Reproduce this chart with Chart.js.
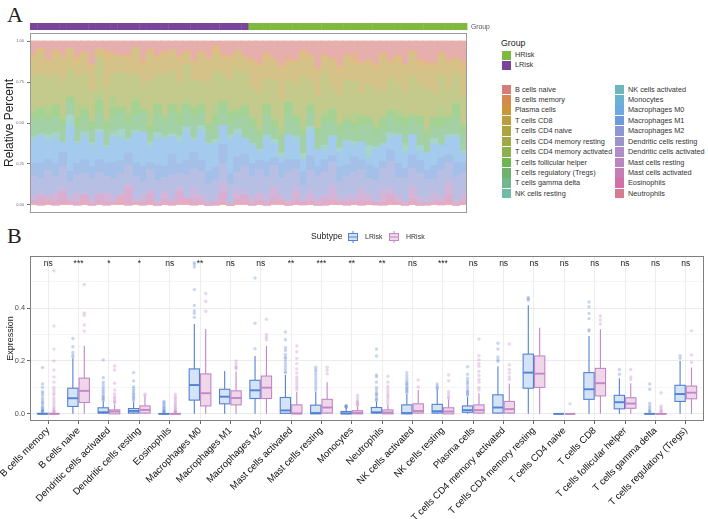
<!DOCTYPE html>
<html>
<head>
<meta charset="utf-8">
<script src="https://cdn.jsdelivr.net/npm/chart.js@4.4.1/dist/chart.umd.min.js"></script>
<style>
  html, body { margin: 0; padding: 0; background: #fff; }
  body { width: 708px; height: 519px; position: relative; overflow: hidden; font-family: "Liberation Sans", Arial, sans-serif; }
  .tag { position: absolute; font-family: "Liberation Serif", "DejaVu Serif", serif; font-size: 22px; line-height: 22px; color: #222; }
  canvas { position: absolute; left: 0; }
  .leg { position: absolute; white-space: nowrap; color: #333; font-size: 7.3px; line-height: 10px; }
  .sw { position: absolute; width: 9px; height: 9px; }
</style>
</head>
<body>
<div class="tag" style="left:7px;top:4px">A</div>
<div class="tag" style="left:7px;top:225px">B</div>
<canvas id="chartA" width="500" height="220" style="top:0;width:500px;height:220px"></canvas>
<canvas id="chartB" width="708" height="299" style="top:220px;width:708px;height:299px"></canvas>
<div id="legendA"></div>
<script>
// ---------- panel A: relative fractions per sample (percent, 30 LRisk then 30 HRisk) ----------
const sampleGroup = [
  'LRisk','LRisk','LRisk','LRisk','LRisk','LRisk','LRisk','LRisk','LRisk','LRisk',
  'LRisk','LRisk','LRisk','LRisk','LRisk','LRisk','LRisk','LRisk','LRisk','LRisk',
  'LRisk','LRisk','LRisk','LRisk','LRisk','LRisk','LRisk','LRisk','LRisk','LRisk',
  'HRisk','HRisk','HRisk','HRisk','HRisk','HRisk','HRisk','HRisk','HRisk','HRisk',
  'HRisk','HRisk','HRisk','HRisk','HRisk','HRisk','HRisk','HRisk','HRisk','HRisk',
  'HRisk','HRisk','HRisk','HRisk','HRisk','HRisk','HRisk','HRisk','HRisk','HRisk'
];

const pctBNaive   = [6,4,8,5,9,3,7,6,10,5, 4,7,8,6,3,9,5,7,6,4, 8,5,10,6,7,3,6,9,5,7,
                     9,12,6,10,14,8,11,5,9,13, 7,10,12,8,6,11,9,14,7,10, 8,12,5,9,11,13,6,10,8,12];
const pctBMemory  = [0,0,1,0,0,0,2,0,0,0, 1,0,0,0,0,3,0,0,0,0, 1,0,0,0,0,0,2,0,0,0,
                     0,1,0,0,0,2,0,0,0,0, 0,1,0,0,4,0,0,0,0,1, 0,0,0,0,2,0,0,0,0,0];
const pctPlasma   = [1,2,1,3,1,0,2,1,2,1, 3,1,1,2,0,1,2,1,3,1, 2,1,1,2,1,4,1,2,1,1,
                     2,1,3,1,2,1,1,4,2,1, 2,1,3,1,2,1,1,2,3,1, 2,1,1,3,1,2,1,2,1,5];
const pctCD8      = [9,12,6,10,15,8,7,11,9,5, 13,10,8,6,12,9,16,7,10,8, 11,6,9,14,8,10,7,12,9,6,
                     12,15,9,11,17,8,13,10,14,12, 7,16,11,13,9,15,10,12,18,8, 11,14,12,9,13,16,10,12,7,14];
const pctCD4Naive = [0,0,0,0,0,0,0,0,0,0, 0,0,0,0,0,0,0,0,0,0, 0,0,0,0,0,0,0,0,0,0,
                     0,0,0,0,0,0,0,0,0,0, 0,0,0,0,0,0,0,0,0,0, 3,0,0,0,0,0,0,0,0,0];
const pctCD4Rest  = [15,18,12,16,20,11,14,17,13,22, 15,12,19,16,10,14,18,13,21,15, 12,17,14,11,16,19,13,15,20,14,
                     14,17,12,19,15,11,16,22,13,15, 18,12,14,20,16,11,15,19,13,17, 14,12,18,15,21,13,16,14,12,17];
const pctCD4Act   = [2,0,5,1,3,0,7,2,0,4, 1,6,0,2,3,0,8,1,2,0, 5,3,0,2,1,6,0,3,2,1,
                     1,3,0,2,4,0,1,5,2,0, 3,1,0,2,6,1,0,3,2,0, 4,1,2,0,3,1,5,0,2,1];
const pctTfh      = [4,5,3,6,4,2,5,4,3,7, 4,5,3,4,6,2,4,5,3,4, 6,3,5,4,2,5,4,6,3,4,
                     4,3,5,4,2,6,4,3,5,4, 3,7,4,2,4,5,3,4,6,3, 4,5,2,4,3,5,4,3,6,4];
const pctTregs    = [7,9,6,8,10,5,7,8,6,11, 7,8,9,6,7,10,5,8,7,9, 6,8,10,7,5,9,8,7,6,10,
                     8,7,9,6,8,10,7,9,8,6, 11,8,7,9,6,8,10,7,8,9, 6,8,7,10,8,7,9,6,8,10];
const pctTgd      = [0,0,0,1,0,0,0,0,0,0, 0,2,0,0,0,0,0,0,1,0, 0,0,0,0,0,0,0,0,1,0,
                     0,0,0,0,1,0,0,0,0,0, 0,0,0,1,0,0,0,0,0,0, 0,2,0,0,0,0,0,0,0,0];
const pctNKRest   = [1,0,2,1,0,3,1,0,1,2, 0,1,4,0,1,0,2,1,0,1, 3,0,1,2,0,1,0,2,1,0,
                     0,1,0,2,1,0,0,3,1,0, 1,0,2,0,1,0,4,1,0,0, 1,2,0,1,0,3,0,1,0,1];
const pctNKAct    = [0,1,0,2,0,1,0,3,0,0, 1,0,2,0,1,0,0,2,1,0, 0,3,0,1,0,2,0,0,1,0,
                     1,0,2,0,1,0,3,0,1,0, 2,1,0,0,1,0,2,0,1,3, 0,1,0,2,0,1,0,0,2,1];
const pctMono     = [0,0,1,0,0,1,0,0,0,1, 0,0,0,1,0,0,1,0,0,0, 1,0,0,0,1,0,0,1,0,0,
                     1,0,0,1,0,0,1,0,2,0, 0,1,0,0,1,0,0,0,1,0, 0,1,0,0,1,0,0,1,0,0];
const pctM0       = [11,15,8,13,6,17,10,12,9,16, 7,14,11,5,13,18,9,12,15,8, 11,14,6,16,10,13,9,19,12,7,
                     8,5,11,7,3,12,9,6,14,8, 4,10,7,13,5,9,3,11,8,6, 15,7,10,4,9,12,6,8,11,5];
const pctM1       = [6,8,5,7,9,4,6,7,5,8, 6,9,7,5,6,8,4,7,6,9, 5,7,8,6,5,7,9,6,8,5,
                     6,5,7,4,8,6,5,7,9,5, 6,4,7,6,8,5,6,7,4,6, 8,5,7,6,5,8,6,4,7,6];
const pctM2       = [9,7,11,8,12,6,9,10,8,13, 7,9,11,8,10,6,12,9,7,10, 8,11,9,13,7,10,8,12,9,11,
                     10,12,8,11,9,14,10,7,12,9, 11,13,8,10,12,9,7,11,10,14, 9,12,8,11,10,7,13,9,11,10];
const pctDCRest   = [1,2,0,1,3,1,0,2,1,0, 1,2,0,1,1,3,0,1,2,1, 0,1,2,0,1,1,3,0,1,2,
                     2,1,3,1,2,0,2,1,3,2, 1,2,0,3,1,2,1,2,3,1, 2,0,2,1,3,2,1,2,1,3];
const pctDCAct    = [1,0,2,1,0,1,3,0,1,1, 0,2,1,0,1,0,2,1,0,1, 1,0,4,1,0,1,2,0,1,0,
                     0,1,1,0,2,0,1,0,1,0, 1,2,0,1,0,0,1,0,2,1, 0,1,0,1,0,2,0,1,0,1];
const pctMastRest = [0,1,0,3,0,0,2,0,1,0, 4,0,0,1,0,2,0,0,3,0, 1,0,0,2,0,0,1,0,3,0,
                     2,3,1,5,0,2,4,1,3,2, 0,6,2,1,3,5,2,0,4,2, 3,1,5,2,0,3,2,4,1,2];
const pctMastAct  = [1,4,0,2,6,0,1,3,0,5, 1,0,2,7,0,1,4,0,2,1, 6,0,3,1,0,2,5,0,1,3,
                     0,1,0,3,0,0,2,0,1,0, 3,0,0,1,0,2,0,0,1,3, 0,0,2,0,1,0,0,3,0,1];
const pctEos      = [0,0,0,0,1,0,0,0,0,0, 0,0,0,0,0,0,0,0,0,0, 0,1,0,0,0,0,0,0,0,0,
                     0,0,0,0,0,0,0,1,0,0, 0,0,0,0,0,0,0,1,0,0, 0,0,0,0,0,0,1,0,0,0];
const pctNeut     = [1,0,2,0,1,1,0,2,0,1, 0,1,3,0,1,0,2,0,1,0, 1,2,0,1,0,0,1,0,2,1,
                     0,1,0,1,2,0,1,0,1,0, 0,2,1,0,1,0,1,0,0,2, 1,0,1,0,0,1,0,2,0,1];

const cellTypes = ['B cells naive','B cells memory','Plasma cells','T cells CD8','T cells CD4 naive',
  'T cells CD4 memory resting','T cells CD4 memory activated','T cells follicular helper',
  'T cells regulatory (Tregs)','T cells gamma delta','NK cells resting','NK cells activated',
  'Monocytes','Macrophages M0','Macrophages M1','Macrophages M2','Dendritic cells resting',
  'Dendritic cells activated','Mast cells resting','Mast cells activated','Eosinophils','Neutrophils'];
const cellValues = [pctBNaive,pctBMemory,pctPlasma,pctCD8,pctCD4Naive,pctCD4Rest,pctCD4Act,pctTfh,
  pctTregs,pctTgd,pctNKRest,pctNKAct,pctMono,pctM0,pctM1,pctM2,pctDCRest,pctDCAct,pctMastRest,
  pctMastAct,pctEos,pctNeut];
const cellColors = ['#D36E6A','#D07B3F','#C68A22','#B4922A','#A59B2C','#96A032','#7FA73A','#5DAE3E',
  '#5DAB5E','#64AF80','#62B49E','#5DAFB3','#5BA9CE','#5CA0DE','#5C8FD6','#7E8DCF','#9488C7',
  '#A681C1','#B379B8','#BF6FAD','#CD629F','#D36B86'];
const groupColors = { HRisk: '#80B93F', LRisk: '#7A449A' };
const yTicksA = [0, 0.25, 0.5, 0.75, 1];

// ---------- panel B: box plot statistics ----------
const categoriesB = ['B cells memory','B cells naive','Dendritic cells activated','Dendritic cells resting',
  'Eosinophils','Macrophages M0','Macrophages M1','Macrophages M2','Mast cells activated',
  'Mast cells resting','Monocytes','Neutrophils','NK cells activated','NK cells resting','Plasma cells',
  'T cells CD4 memory activated','T cells CD4 memory resting','T cells CD4 naive','T cells CD8',
  'T cells follicular helper','T cells gamma delta','T cells regulatory (Tregs)'];
const signifB = ['ns','***','*','*','ns','**','ns','ns','**','***','**','**','ns','***','ns','ns','ns','ns','ns','ns','ns','ns'];

const lrMin = [0,0,0,0,0,0,0,0,0,0,0,0,0,0,0,0,0,0,0,0,0,0];
const lrQ1  = [0,0.028,0.003,0.003,0,0.052,0.038,0.058,0.002,0,0,0.003,0,0.003,0.006,0.003,0.097,0,0.055,0.019,0,0.047];
const lrMed = [0,0.059,0.006,0.011,0,0.109,0.065,0.089,0.013,0.003,0.002,0.006,0.003,0.01,0.014,0.024,0.156,0,0.093,0.044,0,0.075];
const lrQ3  = [0.002,0.097,0.023,0.02,0.001,0.17,0.093,0.127,0.062,0.033,0.009,0.024,0.034,0.036,0.03,0.072,0.226,0,0.156,0.07,0.001,0.108];
const lrMax = [0.005,0.21,0.047,0.045,0.003,0.34,0.162,0.219,0.147,0.084,0.022,0.047,0.075,0.091,0.065,0.18,0.411,0.001,0.294,0.135,0.003,0.2];

const hrMin = [0,0,0,0,0,0,0,0,0,0,0,0,0,0,0,0,0,0,0,0,0,0];
const hrQ1  = [0,0.043,0,0.003,0,0.03,0.034,0.058,0,0.003,0,0,0.003,0,0.003,0.003,0.1,0,0.068,0.021,0,0.057];
const hrMed = [0,0.087,0.009,0.015,0,0.078,0.06,0.099,0.002,0.024,0.004,0.005,0.011,0.009,0.014,0.018,0.152,0,0.116,0.039,0,0.08];
const hrQ3  = [0.002,0.135,0.015,0.03,0.001,0.151,0.087,0.143,0.034,0.055,0.012,0.015,0.038,0.023,0.034,0.047,0.219,0,0.172,0.061,0.001,0.105];
const hrMax = [0.005,0.258,0.034,0.065,0.003,0.321,0.16,0.257,0.083,0.12,0.028,0.034,0.09,0.055,0.078,0.115,0.326,0.001,0.32,0.116,0.003,0.175];

const lrOutliers = [
  [0.175,0.113,0.1,0.085,0.078,0.07,0.06,0.052,0.045,0.04,0.032,0.025,0.02,0.015,0.012,0.01,0.008],
  [0.285,0.254,0.232,0.222,0.215],
  [0.204,0.137,0.12,0.11,0.1,0.092,0.085,0.078,0.07,0.065,0.06,0.055,0.05],
  [0.156,0.124,0.103,0.095,0.088,0.08,0.074,0.068,0.062,0.056,0.05],
  [0.047,0.042,0.036,0.03,0.025,0.02,0.016,0.012,0.009,0.006,0.004],
  [0.572,0.565,0.555,0.47,0.41,0.39,0.38,0.365],
  [],
  [0.514,0.343,0.246],
  [0.31,0.28,0.25,0.24,0.225,0.215,0.21,0.2,0.19,0.18,0.17,0.16,0.155],
  [0.176,0.168,0.16,0.15,0.14,0.13,0.12,0.11,0.1,0.09],
  [0.032,0.03,0.028,0.026,0.025],
  [0.245,0.219,0.147,0.14,0.12,0.1,0.09,0.08,0.075,0.07,0.06,0.055,0.05],
  [0.156,0.145,0.135,0.125,0.118,0.113,0.108,0.1,0.095,0.09,0.085,0.08],
  [0.113,0.105,0.098,0.095],
  [0.178,0.15,0.135,0.125,0.118,0.11,0.1,0.09,0.085,0.08,0.075,0.07],
  [0.267,0.245,0.215,0.205,0.198],
  [0.44,0.435,0.43],
  [],
  [0.423,0.405,0.38,0.36,0.318,0.313],
  [0.168,0.15],
  [0.113,0.093,0.04,0.03,0.022,0.015,0.01,0.006],
  [0.22,0.21]
];
const hrOutliers = [
  [0.541,0.332,0.245,0.2,0.166,0.14,0.12,0.1,0.09,0.08,0.072,0.06,0.05,0.04,0.03,0.022,0.016,0.01,0.008],
  [0.489,0.382,0.373,0.336,0.313],
  [0.181,0.166,0.116,0.09,0.075,0.065,0.058,0.05,0.045,0.04],
  [0.074,0.068],
  [0.074,0.065,0.058,0.05,0.043,0.036,0.03,0.024,0.018,0.013,0.009,0.006,0.004],
  [0.455,0.426,0.388],
  [0.2,0.19,0.18,0.175,0.17],
  [0.358,0.3,0.29,0.28],
  [0.257,0.235,0.21,0.19,0.17,0.155,0.14,0.13,0.12,0.11,0.1,0.09],
  [0.176,0.165,0.152],
  [0.07,0.06,0.05,0.045,0.04,0.035,0.032],
  [0.142,0.12,0.105,0.095,0.085,0.075,0.068,0.06,0.05,0.04],
  [0.128,0.102],
  [0.147,0.125,0.085,0.075,0.065,0.06],
  [0.283,0.22,0.205,0.19,0.18,0.16,0.145,0.13,0.12,0.1,0.09],
  [0.264,0.186,0.168,0.155,0.14,0.13],
  [],
  [0.038],
  [0.37,0.355,0.34],
  [0.168,0.14,0.13],
  [0.08,0.03,0.022,0.015,0.01,0.006],
  [0.314,0.223,0.195]
];
const yTicksB = [0, 0.1, 0.2, 0.3, 0.4, 0.5];
const yLabelsB = ['0.0', '', '0.2', '', '0.4', ''];

const subtypes = [
  { name: 'LRisk', shift: -0.1875, stroke: '#5282D2', fill: '#D5E3F6', dot: 'rgba(86,128,212,0.32)',
    min: lrMin, q1: lrQ1, med: lrMed, q3: lrQ3, max: lrMax, out: lrOutliers },
  { name: 'HRisk', shift: 0.1875, stroke: '#C287C5', fill: '#EFD6EB', dot: 'rgba(192,128,198,0.32)',
    min: hrMin, q1: hrQ1, med: hrMed, q3: hrQ3, max: hrMax, out: hrOutliers }
];
const boxHalf = 0.17;

Chart.defaults.font.family = '"Liberation Sans", Arial, sans-serif';

function withAlpha(hex, a) {
  const n = parseInt(hex.slice(1), 16);
  return `rgba(${n >> 16},${(n >> 8) & 255},${n & 255},${a})`;
}
// solid colour equal to hex drawn with alpha a over white (so overlapping bar edges do not darken)
function onWhite(hex, a) {
  const n = parseInt(hex.slice(1), 16);
  const mix = c => Math.round(c * a + 255 * (1 - a));
  return `rgb(${mix(n >> 16)},${mix((n >> 8) & 255)},${mix(n & 255)})`;
}

// ---------- panel A chart ----------
const sampleTotals = sampleGroup.map((g, j) => cellValues.reduce((s, arr) => s + arr[j], 0));

const panelAPlugin = {
  id: 'panelA',
  afterDraw(chart) {
    const { ctx, chartArea: a, scales: { x } } = chart;
    const w = x.getPixelForValue(1) - x.getPixelForValue(0);
    sampleGroup.forEach((g, i) => {
      const px = x.getPixelForValue(i);
      ctx.fillStyle = groupColors[g];
      ctx.fillRect(px - w / 2, 23, w + 0.4, 7);
    });
    ctx.strokeStyle = '#9a9a9a';
    ctx.lineWidth = 1;
    ctx.strokeRect(a.left + 0.5, a.top + 0.5, a.width - 1, a.height - 1);
    ctx.fillStyle = '#555';
    ctx.font = '6.8px "Liberation Sans", Arial, sans-serif';
    ctx.textBaseline = 'middle';
    ctx.textAlign = 'left';
    ctx.fillText('Group', a.right + 4, 27);
  }
};

new Chart(document.getElementById('chartA'), {
  type: 'bar',
  data: {
    labels: sampleGroup.map((g, i) => g + ' ' + (i + 1)),
    datasets: cellTypes.map((name, k) => ({
      label: name,
      data: cellValues[k].map((v, j) => v / sampleTotals[j]),
      backgroundColor: onWhite(cellColors[k], 0.56),
      borderWidth: 0,
      inflateAmount: 0.6,
      barPercentage: 1,
      categoryPercentage: 1
    })).reverse()
  },
  options: {
    responsive: false,
    animation: false,
    layout: { padding: { left: 0, top: 33, right: 33, bottom: 7 } },
    plugins: { legend: { display: false }, tooltip: { enabled: false } },
    scales: {
      x: { stacked: true, display: false },
      y: {
        stacked: true,
        min: -0.05,
        max: 1.05,
        afterBuildTicks: s => { s.ticks = yTicksA.map(v => ({ value: v })); },
        afterFit: s => { s.width = 30; },
        ticks: { font: { size: 4 }, color: '#666', padding: 3, callback: v => Number(v).toFixed(2) },
        grid: { drawOnChartArea: false, tickLength: 3, tickColor: '#777' },
        border: { display: false },
        title: { display: true, text: 'Relative Percent', font: { size: 12 }, color: '#222', padding: { top: 2, bottom: 0 } }
      }
    }
  },
  plugins: [panelAPlugin]
});

// legend of panel A as HTML
const legendA = document.getElementById('legendA');
function addLeg(text, left, top, cls, extra) {
  const d = document.createElement('div');
  d.className = cls;
  d.style.left = left + 'px';
  d.style.top = top + 'px';
  if (extra) Object.assign(d.style, extra);
  d.textContent = text;
  legendA.appendChild(d);
}
addLeg('Group', 501, 37, 'leg', { fontSize: '8.8px', color: '#222', lineHeight: '12px' });
['HRisk', 'LRisk'].forEach((g, i) => {
  addLeg('', 502, 50.5 + i * 10.2, 'sw', { background: groupColors[g] });
  addLeg(g, 515, 50 + i * 10.2, 'leg');
});
cellTypes.forEach((name, k) => {
  const col = k < 11 ? 0 : 1;
  const row = k % 11;
  const left = col ? 615 : 502;
  const top = 84.5 + row * 10.43;
  addLeg('', left, top, 'sw', { background: withAlpha(cellColors[k], 0.9), height: '9.6px' });
  addLeg(name, left + 13, top, 'leg');
});

// ---------- panel B chart ----------
const panelBPlugin = {
  id: 'panelB',
  beforeDatasetsDraw(chart) {
    const { ctx, scales: { x, y } } = chart;
    subtypes.forEach(st => {
      categoriesB.forEach((c, i) => {
        const cx = x.getPixelForValue(i + st.shift);
        const half = x.getPixelForValue(i + st.shift + boxHalf) - cx;
        const yMin = y.getPixelForValue(st.min[i]);
        const yQ1 = y.getPixelForValue(st.q1[i]);
        const yMed = y.getPixelForValue(st.med[i]);
        const yQ3 = y.getPixelForValue(st.q3[i]);
        const yMax = y.getPixelForValue(st.max[i]);
        ctx.strokeStyle = st.stroke;
        ctx.lineWidth = 1.1;
        ctx.beginPath();
        ctx.moveTo(cx, yMax); ctx.lineTo(cx, yQ3);
        ctx.moveTo(cx, yQ1); ctx.lineTo(cx, yMin);
        ctx.stroke();
        ctx.fillStyle = st.fill;
        ctx.fillRect(cx - half, yQ3, half * 2, yQ1 - yQ3);
        ctx.strokeRect(cx - half, yQ3, half * 2, yQ1 - yQ3);
        ctx.lineWidth = 1.9;
        ctx.beginPath();
        ctx.moveTo(cx - half, yMed); ctx.lineTo(cx + half, yMed);
        ctx.stroke();
      });
    });
  },
  afterDraw(chart) {
    const { ctx, chartArea: a, scales: { x } } = chart;
    ctx.strokeStyle = '#7f7f7f';
    ctx.lineWidth = 1;
    ctx.strokeRect(a.left + 0.5, a.top + 0.5, a.width - 1, a.height - 1);
    // significance labels
    ctx.fillStyle = '#222';
    ctx.font = '8.5px "Liberation Sans", Arial, sans-serif';
    ctx.textAlign = 'center';
    ctx.textBaseline = 'alphabetic';
    signifB.forEach((s, i) => ctx.fillText(s, x.getPixelForValue(i), a.top + 9.5));
    // legend
    ctx.textAlign = 'left';
    ctx.textBaseline = 'middle';
    ctx.font = '8.6px "Liberation Sans", Arial, sans-serif';
    ctx.fillText('Subtype', 311, 17);
    ctx.font = '7px "Liberation Sans", Arial, sans-serif';
    const keyX = [353, 394];
    subtypes.forEach((st, k) => {
      const cx = keyX[k];
      ctx.strokeStyle = st.stroke;
      ctx.lineWidth = 1;
      ctx.beginPath();
      ctx.moveTo(cx, 11); ctx.lineTo(cx, 13.5);
      ctx.moveTo(cx, 20.5); ctx.lineTo(cx, 23);
      ctx.stroke();
      ctx.fillStyle = st.fill;
      ctx.fillRect(cx - 4.5, 13.5, 9, 7);
      ctx.strokeRect(cx - 4.5, 13.5, 9, 7);
      ctx.beginPath();
      ctx.moveTo(cx - 4.5, 17); ctx.lineTo(cx + 4.5, 17);
      ctx.stroke();
      ctx.fillStyle = '#333';
      ctx.fillText(st.name, cx + 12, 17);
    });
  }
};

new Chart(document.getElementById('chartB'), {
  type: 'scatter',
  data: {
    datasets: subtypes.map(st => ({
      label: st.name,
      data: st.out.flatMap((vals, i) => vals.map(v => ({ x: i + st.shift, y: v }))),
      pointRadius: 1.7,
      pointBorderWidth: 0,
      pointBackgroundColor: st.dot
    }))
  },
  options: {
    responsive: false,
    animation: false,
    layout: { padding: { left: 0, top: 36, right: 1, bottom: 0 } },
    plugins: { legend: { display: false }, tooltip: { enabled: false } },
    scales: {
      x: {
        type: 'linear',
        min: -0.6,
        max: 21.6,
        afterBuildTicks: s => { s.ticks = categoriesB.map((c, i) => ({ value: i })); },
        afterFit: s => { s.height = 98; s.paddingLeft = 0; s.paddingRight = 0; },
        ticks: {
          autoSkip: false, minRotation: 45, maxRotation: 45, padding: 1,
          font: { size: 9.6 }, color: '#111',
          callback: v => categoriesB[v]
        },
        grid: { color: '#e8e8e8', lineWidth: 0.8, tickLength: 3, tickColor: '#444' },
        border: { display: false }
      },
      y: {
        min: -0.027,
        max: 0.597,
        afterBuildTicks: s => { s.ticks = yTicksB.map(v => ({ value: v })); },
        afterFit: s => { s.width = 30; },
        ticks: {
          font: { size: 7.3 }, color: '#4d4d4d', padding: 2,
          callback: (v, i) => yLabelsB[i]
        },
        grid: {
          color: c => (yLabelsB[c.index] ? '#e6e6e6' : '#f2f2f2'),
          lineWidth: 0.8, tickLength: 3,
          tickColor: c => (yLabelsB[c.index] ? '#444' : 'rgba(0,0,0,0)')
        },
        border: { display: false },
        title: { display: true, text: 'Expression', font: { size: 9 }, color: '#222', padding: { top: 5, bottom: 0 } }
      }
    }
  },
  plugins: [panelBPlugin]
});
</script>
</body>
</html>
